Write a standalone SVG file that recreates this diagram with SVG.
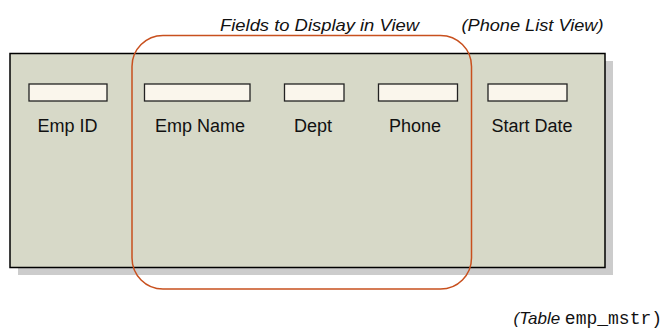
<svg xmlns="http://www.w3.org/2000/svg" width="667" height="329" viewBox="0 0 667 329">
<style>
.lbl{font-family:"Liberation Sans",Arial,sans-serif;font-size:18px;fill:#111}
.it{font-family:"Liberation Sans",Arial,sans-serif;font-style:italic;font-size:17px;fill:#111}
.mono{font-family:"Liberation Mono","Courier New",monospace;font-size:18px;fill:#111}
.fld{fill:#faf6ec;stroke:#222;stroke-width:1.3}
</style>
<rect width="667" height="329" fill="#ffffff"/>
<g id="table">
<rect x="18" y="61" width="595" height="214" fill="#cccccc"/>
<rect x="10" y="53.5" width="595" height="214" fill="#d7d9c8" stroke="#000" stroke-width="1.5"/>
</g>
<g id="f-empid"><rect class="fld" x="29" y="84" width="78" height="17"/><text class="lbl" x="37.5" y="132">Emp ID</text></g>
<g id="f-empname"><rect class="fld" x="144.5" y="84" width="105.5" height="17"/><text class="lbl" x="155" y="132">Emp Name</text></g>
<g id="f-dept"><rect class="fld" x="284.5" y="84" width="59.5" height="17"/><text class="lbl" x="294" y="132">Dept</text></g>
<g id="f-phone"><rect class="fld" x="378.5" y="84" width="79" height="17"/><text class="lbl" x="389" y="132">Phone</text></g>
<g id="f-start"><rect class="fld" x="488" y="84" width="79" height="17"/><text class="lbl" x="491.5" y="132">Start Date</text></g>
<g id="selection"><rect x="132" y="35.5" width="339.5" height="253.5" rx="31" ry="31" fill="none" stroke="#c8501e" stroke-width="1.5"/></g>
<g id="connectors"></g>
<g id="labels">
<text class="it" x="220" y="31" textLength="199" lengthAdjust="spacingAndGlyphs">Fields to Display in View</text>
<text class="it" x="461.5" y="31" textLength="142" lengthAdjust="spacingAndGlyphs">(Phone List View)</text>
<text x="513.5" y="324"><tspan class="it">(Table </tspan><tspan class="mono">emp_mstr)</tspan></text>
</g>
</svg>
